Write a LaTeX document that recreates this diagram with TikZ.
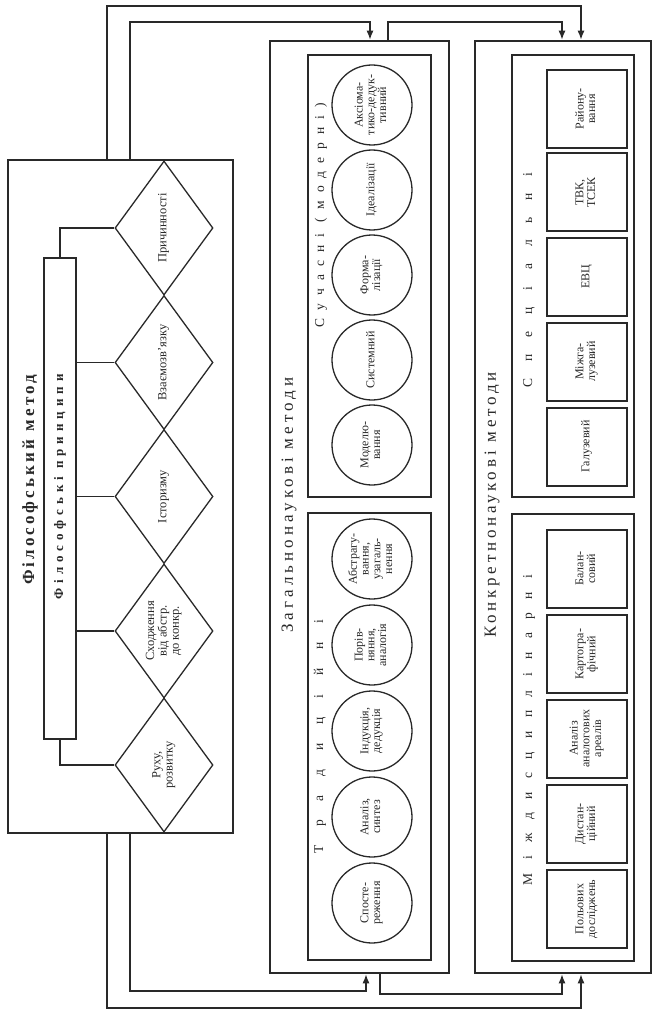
\documentclass[tikz,border=0pt]{standalone}
\usepackage{fontspec}
\setmainfont{Liberation Serif}
\usepackage{graphicx}
\usetikzlibrary{shapes.geometric,arrows.meta}
\definecolor{ink}{gray}{0.16}
\newcommand\rt[1]{\rotatebox{90}{\begin{tabular}{@{}c@{}}#1\end{tabular}}}
\newcommand\spaced[2]{{\addfontfeature{LetterSpace=#1}#2}}
\renewcommand\arraystretch{0.9}
\begin{document}
\begin{tikzpicture}[x=1pt,y=-1pt,
  every node/.style={text=ink},
  outerbox/.style={draw=ink,line width=2.6pt,inner sep=0pt},
  innerbox/.style={draw=ink,line width=1.5pt,inner sep=0pt},
  dia/.style={diamond,draw=ink,line width=1.3pt,inner sep=0pt,minimum width=98pt,minimum height=134pt,font=\fontsize{12.5}{13.5}\selectfont},
  circ/.style={circle,draw=ink,line width=1.3pt,inner sep=0pt,minimum size=80pt,font=\fontsize{12}{13}\selectfont},
  sq/.style={rectangle,draw=ink,line width=2pt,inner sep=0pt,minimum width=80pt,minimum height=78pt,font=\fontsize{12}{13}\selectfont},
  conn/.style={draw=ink,line width=1.3pt},
  arr/.style={conn,-{Latex[length=9pt,width=7pt]}},
  bigtitle/.style={rotate=90,inner sep=0pt,font=\fontsize{17}{17}\selectfont},
  subtitle/.style={rotate=90,inner sep=0pt,font=\fontsize{13.5}{13.5}\selectfont},
]
\fill[white] (0,0) rectangle (655,1016);
\useasboundingbox (0,0) rectangle (655,1016);

% ---------- Philosophical method ----------
\node[outerbox,minimum width=225pt,minimum height=673pt] (phil) at (120.5,496.5) {};
\node[bigtitle,font=\fontsize{17}{17}\bfseries] (philT) at (30,480) {\spaced{18}{Філософський\hspace{9pt}метод}};
\node[innerbox,minimum width=32pt,minimum height=481pt] (bar) at (60,498.5) {};
\node[subtitle,font=\fontsize{13}{13}\bfseries] (barT) at (60,487) {\spaced{38}{Філософські\hspace{8pt}принципи}};

\node[dia] (d1) at (164,228) {\rt{Причинності}};
\node[dia] (d2) at (164,362.5) {\rt{Взаємозв’язку}};
\node[dia] (d3) at (164,496.5) {\rt{Історизму}};
\node[dia] (d4) at (164,631) {\rt{Сходження\\від абстр.\\до конкр.}};
\node[dia] (d5) at (164,765) {\rt{Руху,\\розвитку}};

\draw[conn] (bar.north) |- (d1.west);
\draw[conn] (bar.east |- d2.west) -- (d2.west);
\draw[conn] (bar.east |- d3.west) -- (d3.west);
\draw[conn] (bar.east |- d4.west) -- (d4.west);
\draw[conn] (bar.south) |- (d5.west);

% ---------- General scientific methods ----------
\node[outerbox,minimum width=179pt,minimum height=932pt] (gen) at (359.5,507) {};
\node[bigtitle] (genT) at (289,505) {\spaced{24}{Загальнонаукові\hspace{9pt}методи}};

\node[innerbox,minimum width=123pt,minimum height=442pt] (mod) at (369.5,276) {};
\node[subtitle] (modT) at (321,215) {\spaced{60}{Сучасні (модерні)}};
\node[circ] (m1) at (372,105) {\rt{Аксіома-\\тико-дедук-\\тивний}};
\node[circ] (m2) at (372,190) {\rt{Ідеалізації}};
\node[circ] (m3) at (372,275) {\rt{Форма-\\лізації}};
\node[circ] (m4) at (372,360) {\rt{Системний}};
\node[circ] (m5) at (372,445) {\rt{Моделю-\\вання}};

\node[innerbox,minimum width=123pt,minimum height=447pt] (trad) at (369.5,736.5) {};
\node[subtitle] (tradT) at (320,736.5) {\spaced{140}{Традиційні}};
\node[circ] (t1) at (372,559) {\rt{Абстрагу-\\вання,\\узагаль-\\нення}};
\node[circ] (t2) at (372,645) {\rt{Порів-\\няння,\\аналогія}};
\node[circ] (t3) at (372,731) {\rt{Індукція,\\дедукція}};
\node[circ] (t4) at (372,817) {\rt{Аналіз,\\синтез}};
\node[circ] (t5) at (372,903) {\rt{Спосте-\\реження}};

% ---------- Concrete scientific methods ----------
\node[outerbox,minimum width=176pt,minimum height=932pt] (spec) at (563,507) {};
\node[bigtitle] (specT) at (492,505) {\spaced{22}{Конкретнонаукові\hspace{9pt}методи}};

\node[innerbox,minimum width=122pt,minimum height=442pt] (spc) at (573,276) {};
\node[subtitle] (spcT) at (529,280) {\spaced{125}{Спеціальні}};
\node[sq] (s1) at (587,109) {\rt{Району-\\вання}};
\node[sq] (s2) at (587,192.5) {\rt{ТВК,\\ТСЕК}};
\node[sq] (s3) at (587,276.5) {\rt{ЕВЦ}};
\node[sq] (s4) at (587,361.5) {\rt{Міжга-\\лузевий}};
\node[sq] (s5) at (587,446.5) {\rt{Галузевий}};

\node[innerbox,minimum width=122pt,minimum height=447pt] (mizh) at (573,737.5) {};
\node[subtitle] (mizhT) at (529,730) {\spaced{100}{Міждисциплінарні}};
\node[sq] (k1) at (587,568.5) {\rt{Балан-\\совий}};
\node[sq] (k2) at (587,654) {\rt{Картогра-\\фічний}};
\node[sq] (k3) at (587,738.5) {\rt{Аналіз\\аналогових\\ареалів}};
\node[sq] (k4) at (587,824) {\rt{Дистан-\\ційний}};
\node[sq] (k5) at (587,909) {\rt{Польових\\досліджень}};

% ---------- routing coordinates ----------
\coordinate (xOut) at (107,0);
\coordinate (xIn) at (130,0);
\coordinate (xGa) at (370,0);
\coordinate (xGo) at (388,0);
\coordinate (xGaB) at (366,0);
\coordinate (xGoB) at (380,0);
\coordinate (xSa) at (562,0);
\coordinate (xSb) at (581,0);
\coordinate (yT1) at (0,6);
\coordinate (yT2) at (0,22);
\coordinate (yB1) at (0,1008);
\coordinate (yB2) at (0,991);
\coordinate (yB3) at (0,994);

% top connectors
\draw[arr] (phil.north -| xOut) -- (xOut |- yT1) -| (spec.north -| xSb);
\draw[arr] (phil.north -| xIn) -- (xIn |- yT2) -| (gen.north -| xGa);
\draw[arr] (gen.north -| xGo) -- (xGo |- yT2) -| (spec.north -| xSa);
% bottom connectors
\draw[arr] (phil.south -| xOut) -- (xOut |- yB1) -| (spec.south -| xSb);
\draw[arr] (phil.south -| xIn) -- (xIn |- yB2) -| (gen.south -| xGaB);
\draw[arr] (gen.south -| xGoB) -- (xGoB |- yB3) -| (spec.south -| xSa);
\end{tikzpicture}
\end{document}
